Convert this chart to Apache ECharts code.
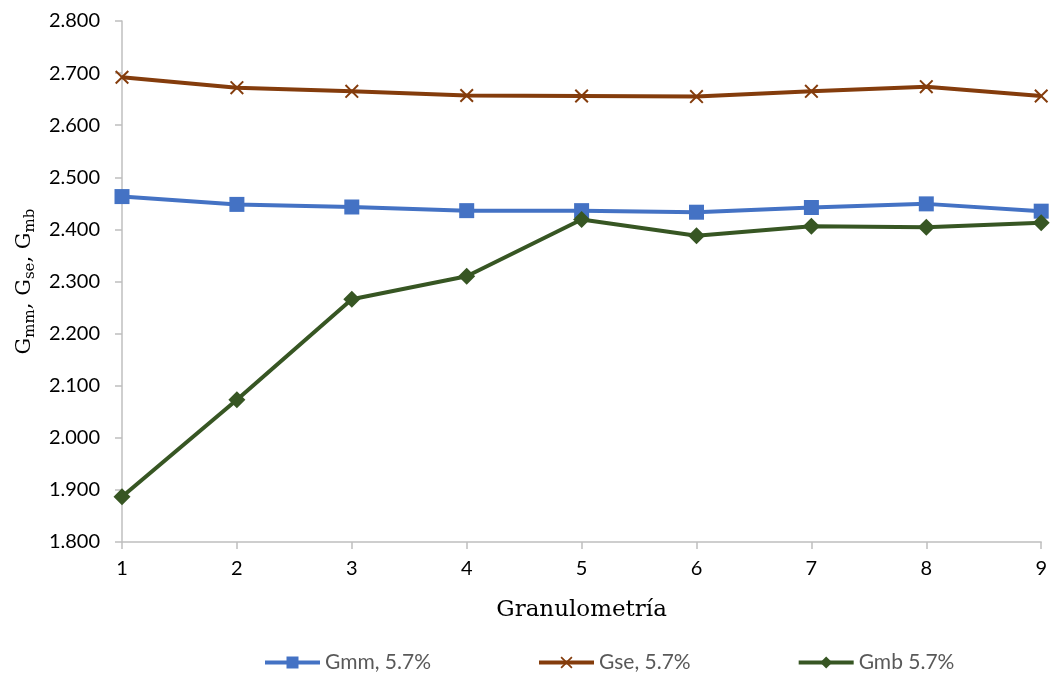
<!DOCTYPE html>
<html>
<head>
<meta charset="utf-8">
<script src="https://cdn.jsdelivr.net/npm/echarts@6/dist/echarts.min.js"></script>
<style>html,body{margin:0;padding:0;background:#fff}#c{width:1050px;height:675px}</style>
</head>
<body>
<div id="c"></div>
<script>
const categories = [1, 2, 3, 4, 5, 6, 7, 8, 9];
const gmm = [2.463, 2.448, 2.443, 2.436, 2.436, 2.433, 2.442, 2.449, 2.435];
const gse = [2.692, 2.672, 2.665, 2.657, 2.656, 2.655, 2.665, 2.674, 2.656];
const gmb = [1.887, 2.073, 2.266, 2.310, 2.419, 2.388, 2.406, 2.404, 2.413];
const seriesNames = ['Gmm, 5.7%', 'Gse, 5.7%', 'Gmb 5.7%'];
const xTitle = 'Granulometría';

const pair = arr => categories.map((c, i) => [c, arr[i]]);
const xPath = 'path://M0,1 L1,0 L5,4 L9,0 L10,1 L6,5 L10,9 L9,10 L5,6 L1,10 L0,9 L4,5 Z';

const chart = echarts.init(document.getElementById('c'), null, {renderer: 'canvas'});
chart.setOption({
  animation: false,
  backgroundColor: '#fff',
  grid: {left: 122, right: 8, top: 21, bottom: 133, containLabel: false},
  xAxis: {
    type: 'value', min: 1, max: 9, interval: 1,
    name: xTitle, nameLocation: 'middle', nameGap: 57,
    nameTextStyle: {fontFamily: 'DejaVu Serif', fontSize: 23, color: '#000'},
    axisLine: {show: true, lineStyle: {color: '#bfbfbf', width: 1.5}},
    axisTick: {show: true, length: 7, lineStyle: {color: '#bfbfbf', width: 1.5}},
    axisLabel: {fontFamily: 'Lato', fontSize: 20, color: '#000', margin: 17},
    splitLine: {show: false}
  },
  yAxis: {
    type: 'value', min: 1.8, max: 2.8, interval: 0.1,
    name: 'G{s|mm}, G{s|se}, G{s|mb}', nameLocation: 'middle', nameRotate: 90, nameGap: 74,
    nameTextStyle: {
      fontFamily: 'DejaVu Serif', fontSize: 21, color: '#000', lineHeight: 26,
      rich: {s: {fontFamily: 'DejaVu Serif', fontSize: 15, color: '#000', padding: [10, 0, 0, 0], verticalAlign: 'bottom'}}
    },
    axisLine: {show: true, lineStyle: {color: '#bfbfbf', width: 1.5}},
    axisTick: {show: true, length: 7, lineStyle: {color: '#bfbfbf', width: 1.5}},
    axisLabel: {fontFamily: 'Lato', fontSize: 20, color: '#000', margin: 22,
      formatter: v => v.toFixed(3)},
    splitLine: {show: false}
  },
  legend: {
    top: 647, left: 258, itemGap: 106, itemWidth: 55, itemHeight: 15,
    textStyle: {fontFamily: 'Lato', fontSize: 21, color: '#595959'},
    lineStyle: {width: 4},
    data: seriesNames
  },
  series: [
    {name: seriesNames[0], type: 'line', data: pair(gmm), symbol: 'rect', symbolSize: 15,
     lineStyle: {color: '#4472C4', width: 4}, itemStyle: {color: '#4472C4'}},
    {name: seriesNames[1], type: 'line', data: pair(gse), symbol: xPath, symbolSize: 14,
     lineStyle: {color: '#843C0C', width: 4}, itemStyle: {color: '#843C0C'}},
    {name: seriesNames[2], type: 'line', data: pair(gmb), symbol: 'diamond', symbolSize: 17,
     lineStyle: {color: '#375623', width: 4}, itemStyle: {color: '#375623'}}
  ]
});
</script>
</body>
</html>
